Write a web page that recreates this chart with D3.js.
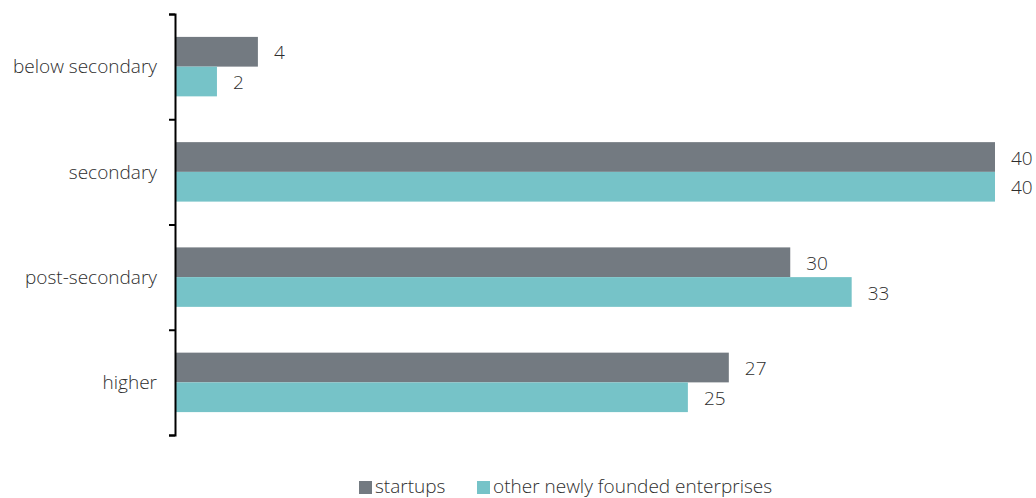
<!DOCTYPE html>
<html>
<head>
<meta charset="utf-8">
<script src="https://cdn.jsdelivr.net/npm/d3@7"></script>
<style>
  html, body { margin: 0; padding: 0; background: #fff; }
  svg { display: block; font-family: "Open Sans", "Noto Sans", sans-serif; }
  .lbl { fill: #2e2e2e; font-size: 19px; font-weight: 300; }
</style>
</head>
<body>
<svg id="chart" width="1036" height="498"></svg>
<script>
// Education level of founders, share in %
const categories = ["below secondary", "secondary", "post-secondary", "higher"];
const seriesNames = ["startups", "other newly founded enterprises"];
const startups = [4, 40, 30, 27];
const otherEnterprises = [2, 40, 33, 25];
const seriesColors = ["#737a81", "#76c3c8"];

const values = [startups, otherEnterprises];

const svg = d3.select("#chart");
const axisX = 175, plotTop = 14, plotBottom = 435;

const x = d3.scaleLinear().domain([0, 40]).range([axisX + 1, 995]);
const y = d3.scaleBand().domain(categories).range([plotTop, plotBottom]);
const ySub = d3.scaleBand().domain(seriesNames).range([0, y.bandwidth()]).paddingOuter(0.77);

// bars
const groups = svg.append("g").selectAll("g")
  .data(categories)
  .join("g")
  .attr("transform", d => `translate(0,${y(d)})`);

groups.each(function(cat, i) {
  const g = d3.select(this);
  seriesNames.forEach((s, j) => {
    const v = values[j][i];
    g.append("rect")
      .attr("x", x(0))
      .attr("y", ySub(s))
      .attr("width", x(v) - x(0))
      .attr("height", ySub.bandwidth())
      .attr("fill", seriesColors[j]);
    g.append("text")
      .attr("class", "lbl")
      .attr("x", x(v) + 16)
      .attr("y", ySub(s) + ySub.bandwidth() / 2 + 1)
      .attr("dy", "0.35em")
      .text(v);
  });
});

// axis with ticks at category boundaries
const yEdge = d3.scaleLinear().domain([0, categories.length]).range([plotTop, plotBottom]);
const axis = svg.append("g")
  .attr("transform", `translate(${axisX},0)`)
  .call(d3.axisLeft(yEdge).ticks(categories.length).tickSize(6).tickSizeOuter(6).tickFormat(""));
axis.selectAll("path, line").attr("stroke", "#000").attr("stroke-width", 2);

// category labels
svg.append("g").selectAll("text")
  .data(categories)
  .join("text")
  .attr("class", "lbl")
  .attr("x", axisX - 18)
  .attr("y", d => y(d) + y.bandwidth() / 2)
  .attr("dy", "0.35em")
  .attr("text-anchor", "end")
  .text(d => d);

// legend
const legendItems = [
  { name: seriesNames[0], color: seriesColors[0], x: 359 },
  { name: seriesNames[1], color: seriesColors[1], x: 477 }
];
const legend = svg.append("g").selectAll("g")
  .data(legendItems)
  .join("g")
  .attr("transform", d => `translate(${d.x},481)`);
legend.append("rect").attr("width", 13).attr("height", 13).attr("fill", d => d.color);
legend.append("text")
  .attr("class", "lbl")
  .attr("x", 16)
  .attr("y", 12)
  .text(d => d.name);
</script>
</body>
</html>
